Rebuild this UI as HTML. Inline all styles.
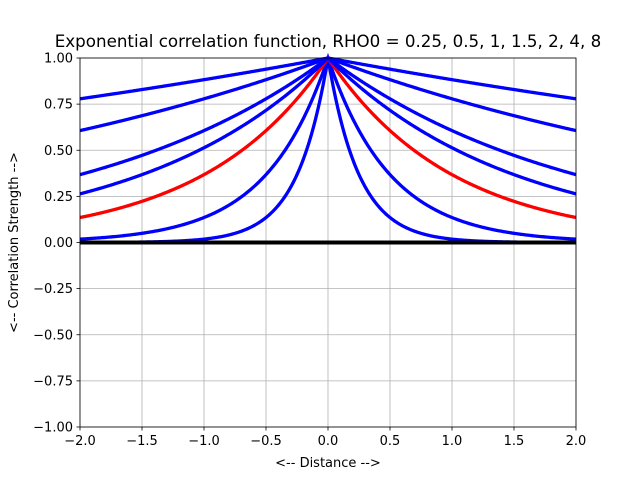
<!DOCTYPE html>
<html><head><meta charset="utf-8"><style>
html,body{margin:0;padding:0;background:#fff;}
svg text{font-family:"DejaVu Sans","Liberation Sans",sans-serif;fill:#000;}
</style></head><body>
<svg id="s" width="640" height="480" xmlns="http://www.w3.org/2000/svg">
<rect width="640" height="480" fill="#fff"/>
<g id="grid" stroke="#b0b0b0" stroke-width="0.8"></g>
<g id="curves" fill="none" stroke-width="3.3"></g>
<line x1="80" y1="242.5" x2="576" y2="242.5" stroke="#000" stroke-width="4"/>
<rect x="80" y="58" width="496" height="369" fill="none" stroke="#000" stroke-width="0.8"/>
<g id="ticks" stroke="#000" stroke-width="0.8"></g>
<g id="labels" font-size="13"></g>
<text x="328" y="47" text-anchor="middle" font-size="16.7">Exponential correlation function, RHO0 = 0.25, 0.5, 1, 1.5, 2, 4, 8</text>
<text x="328" y="467" text-anchor="middle" font-size="13">&lt;-- Distance --&gt;</text>
<text x="18" y="242.5" text-anchor="middle" font-size="13" transform="rotate(-90 18 242.5)">&lt;-- Correlation Strength --&gt;</text>
</svg>
<script>
var NS="http://www.w3.org/2000/svg";
function X(x){return 328+x*124;}
function Y(y){return 242.5-y*184.5;}
function el(p,t,a,txt){var e=document.createElementNS(NS,t);for(var k in a)e.setAttribute(k,a[k]);if(txt!==undefined)e.textContent=txt;document.getElementById(p).appendChild(e);}
for(var i=0;i<=8;i++){var x=-2+i*0.5,px=X(x);
 el("grid","line",{x1:px,y1:58,x2:px,y2:427});
 el("ticks","line",{x1:px,y1:427,x2:px,y2:430.5});
 el("labels","text",{x:px,y:445,"text-anchor":"middle"},(x<0?"\u2212":"")+Math.abs(x).toFixed(1));}
for(var i=0;i<=8;i++){var y=-1+i*0.25,py=Y(y);
 el("grid","line",{x1:80,y1:py,x2:576,y2:py});
 el("ticks","line",{x1:76.5,y1:py,x2:80,y2:py});
 el("labels","text",{x:73,y:py+4.5,"text-anchor":"end"},(y<0?"\u2212":"")+Math.abs(y).toFixed(2));}
[0.25,0.5,1,1.5,2,4,8].forEach(function(r){var d="";
 for(var i=0;i<=400;i++){var x=-2+i*0.01;d+=(i?"L":"M")+X(x).toFixed(2)+","+Y(Math.exp(-Math.abs(x)/r)).toFixed(2);}
 el("curves","path",{d:d,stroke:r==1?"#ff0000":"#0000ff"});});
</script>
</body></html>
